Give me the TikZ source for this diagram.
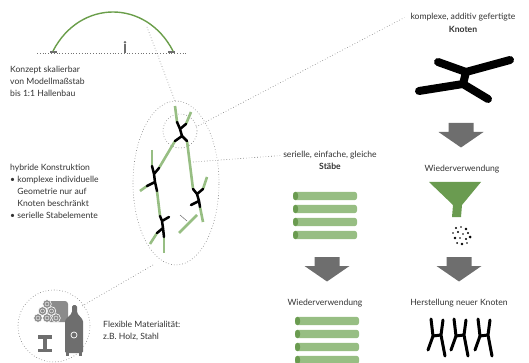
\documentclass[tikz,border=0pt]{standalone}
\usepackage{fontspec}
\setmainfont{Lato}
\usetikzlibrary{calc}

\definecolor{bogengruen}{HTML}{6A9E4A}
\definecolor{stabhell}{HTML}{97BE83}
\definecolor{stabdunkel}{HTML}{6A9B50}
\definecolor{pfeilgrau}{HTML}{6E6E6E}
\definecolor{textgrau}{HTML}{333333}

\tikzset{
  leitlinie/.style={line width=0.6pt, dash pattern=on 0.6pt off 2.2pt, black!55},
  stab/.style={line width=2.6pt, stabhell},
  knot/.style={line width=2.5pt, black, line cap=round, line join=round},
  beschriftung/.style={font=\fontsize{8.6}{11.9}\selectfont, text=textgrau, inner sep=0pt},
  pics/pfeilrunter/.style={code={
    \fill[pfeilgrau] (-12.5,0) -- (12.5,0) -- (12.5,9) -- (22.5,9) -- (0,24.5)
      -- (-22.5,9) -- (-12.5,9) -- cycle;
  }},
  pics/stabbalken/.style={code={
    \fill[stabhell, rounded corners=2.5pt] (0,-4.2) rectangle (64,4.2);
    \fill[stabdunkel] (2.6,0) ellipse (2.6pt and 4.2pt);
  }},
  pics/kleinknoten/.style={code={
    \draw[knot, line width=3pt] (-6,-17) -- (-4,0) -- (-9,14)
      (6,-16) -- (4,-1) -- (8,20) (-4,0) -- (4,-1);
  }},
}

\begin{document}
\begin{tikzpicture}[x=1pt,y=-1pt, every node/.style={beschriftung}]
  \useasboundingbox (0,0) rectangle (529,363);

  % Bogen mit Boden und Mensch
  \draw[leitlinie] (37,53) -- (188,53);
  \fill[pfeilgrau] (50,51.5) rectangle (57,53.5);
  \fill[pfeilgrau] (168,51.5) rectangle (175,53.5);
  \draw[bogengruen, line width=1.4pt] (53,51) .. controls (80,-1) and (146,-1) .. (173,51);
  \fill[pfeilgrau] (125,42.3) circle (1.4pt);
  \fill[pfeilgrau] (123.7,44.5) rectangle (126.3,49.5);
  \fill[pfeilgrau] (124.1,49) rectangle (125.9,53);
  \coordinate (bogenpunkt) at (147,27);

  \node[anchor=north west, align=left] (konzept) at (10,66)
    {Konzept skalierbar\\von Modellmaßstab\\bis 1:1 Hallenbau};

  % Ausschnitt Stabwerk
  \draw[leitlinie] (176,183) ellipse (43pt and 82pt);
  \draw[leitlinie] (180,131) circle (17pt);
  \coordinate (ellipseoben) at (175,101);
  \coordinate (kreisrechts) at (196,127);
  \coordinate (stabmitte) at (193,162);
  \coordinate (ellipseunten) at (153,265);

  \draw[stab] (175,106) -- (177,122);
  \draw[stab] (191,112) -- (186,124);
  \draw[stab] (175,141) -- (159,168);
  \draw[stab] (187,141) -- (193,189);
  \draw[stab] (152,150) -- (152,166);
  \draw[stab] (147,186) -- (140,191);
  \draw[stab] (157,191) -- (160,216);
  \draw[stab] (203,189) -- (207,177);
  \draw[stab] (200,207) -- (203,222);
  \draw[stab] (157,233) -- (150,244);
  \draw[stab] (164,237) -- (164,253);
  \draw[stab] (179,233) -- (197,215);

  \draw[knot] (177,122) -- (180,129) -- (186,124) (180,129) -- (182,136)
    (175,141) -- (182,136) -- (187,141);
  \draw[knot] (152,166) -- (154,174) -- (159,168) (154,174) -- (155,182)
    (147,186) -- (155,182) -- (157,191);
  \draw[knot] (193,189) -- (197,194) -- (203,189) (197,194) -- (199,201)
    (191,205) -- (199,201) -- (200,207);
  \draw[knot] (160,216) -- (162,221) -- (169,217) (162,221) -- (163,228)
    (157,233) -- (163,228) -- (164,237);
  \draw[pfeilgrau, line width=0.5pt] (180,215) -- (187,221);

  \node[anchor=north west, align=left] (hybrid) at (10,164)
    {hybride Konstruktion\\\textbullet\ komplexe individuelle\\
     \hphantom{\textbullet\ }Geometrie nur auf\\\hphantom{\textbullet\ }Knoten beschränkt\\
     \textbullet\ serielle Stabelemente};

  % Materialien
  \draw[leitlinie] (54,326) circle (36pt);
  \coordinate (kreisoben) at (82,306);
  % Holzstapel
  \fill[pfeilgrau!80, rounded corners=3pt] (47,301) rectangle (68,322);
  \foreach \p in {(38,318),(47,318),(56,318),(42.5,311),(51.5,311),(47,304)}
    \filldraw[fill=pfeilgrau!80, draw=white, line width=0.6pt] \p circle (4.3pt);
  \foreach \p in {(38,318),(47,318),(56,318),(42.5,311),(51.5,311),(47,304)}
    \draw[white, line width=0.4pt] \p circle (2pt);
  % Stahltraeger
  \fill[pfeilgrau] (38,335) rectangle (52,338.5);
  \fill[pfeilgrau] (43.3,338) rectangle (46.7,349);
  \fill[pfeilgrau] (38,348.5) rectangle (52,352);
  % Flasche
  \fill[pfeilgrau, rounded corners=1.5pt] (72,305) -- (77,305) -- (77,313)
    -- (83,320) -- (83,353) -- (65,353) -- (65,320) -- (72,313) -- cycle;
  \fill[pfeilgrau] (66,352) rectangle (69,356);
  \fill[pfeilgrau] (79,352) rectangle (82,356);
  \draw[white, line width=0.7pt] (74,335) circle (3pt);

  \node[anchor=north west, align=left] (material) at (103,321)
    {Flexible Materialität:\\z.B. Holz, Stahl};

  % Leitlinien
  \draw[leitlinie] (bogenpunkt) -- (ellipseoben);
  \draw[leitlinie] (ellipseunten) -- (kreisoben);

  % Stabe: Wiederverwendung
  \node[anchor=base] (stabtitel) at (330,158) {serielle, einfache, gleiche};
  \node[anchor=base] (stabname) at (330,170) {\bfseries Stäbe};
  \draw[leitlinie] (stabmitte) -- ($(stabtitel.west)+(-3,0)$);
  \foreach \y in {196,209,222,235}
    \pic at (293,\y) {stabbalken};
  \pic at (327,257) {pfeilrunter};
  \node[anchor=base] (stabwieder) at (325,305) {Wiederverwendung};
  \foreach \y in {321,334,347,360}
    \pic at (295,\y) {stabbalken};

  % Knoten: Recycling und Neuherstellung
  \node[anchor=base] (knotentitel) at (463,20) {komplexe, additiv gefertigte};
  \node[anchor=base] (knotenname) at (463,33) {\bfseries Knoten};
  \draw[leitlinie] (kreisrechts) -- ($(knotentitel.west)+(-6,0)$);
  \draw[knot, line width=8pt] (438,62) -- (466,72) -- (510,60)
    (466,72) -- (463,84) (419,91) -- (463,84) -- (488,99);
  \pic at (461,123) {pfeilrunter};
  \node[anchor=base] (knotenwieder) at (462,172) {Wiederverwendung};
  % Trichter
  \fill[stabdunkel] (429,182) -- (481,182) -- (462,205) -- (461,217)
    -- (452,217) -- (453,205) -- cycle;
  \foreach \p/\r in {(456,228)/1.1,(461,227)/0.8,(466,229)/1.3,(453,233)/0.9,
      (458,232)/1.2,(463,234)/0.8,(468,233)/1.1,(455,238)/1.3,(460,238)/0.9,
      (466,239)/1.2,(470,237)/1.5,(457,243)/1.0,(462,244)/1.4,(467,243)/0.8}
    \fill \p circle (\r pt);
  \pic at (459,257) {pfeilrunter};
  \node[anchor=base] (knotenneu) at (459,305) {Herstellung neuer Knoten};
  \foreach \x in {437,460,484}
    \pic at (\x,336) {kleinknoten};
\end{tikzpicture}
\end{document}
